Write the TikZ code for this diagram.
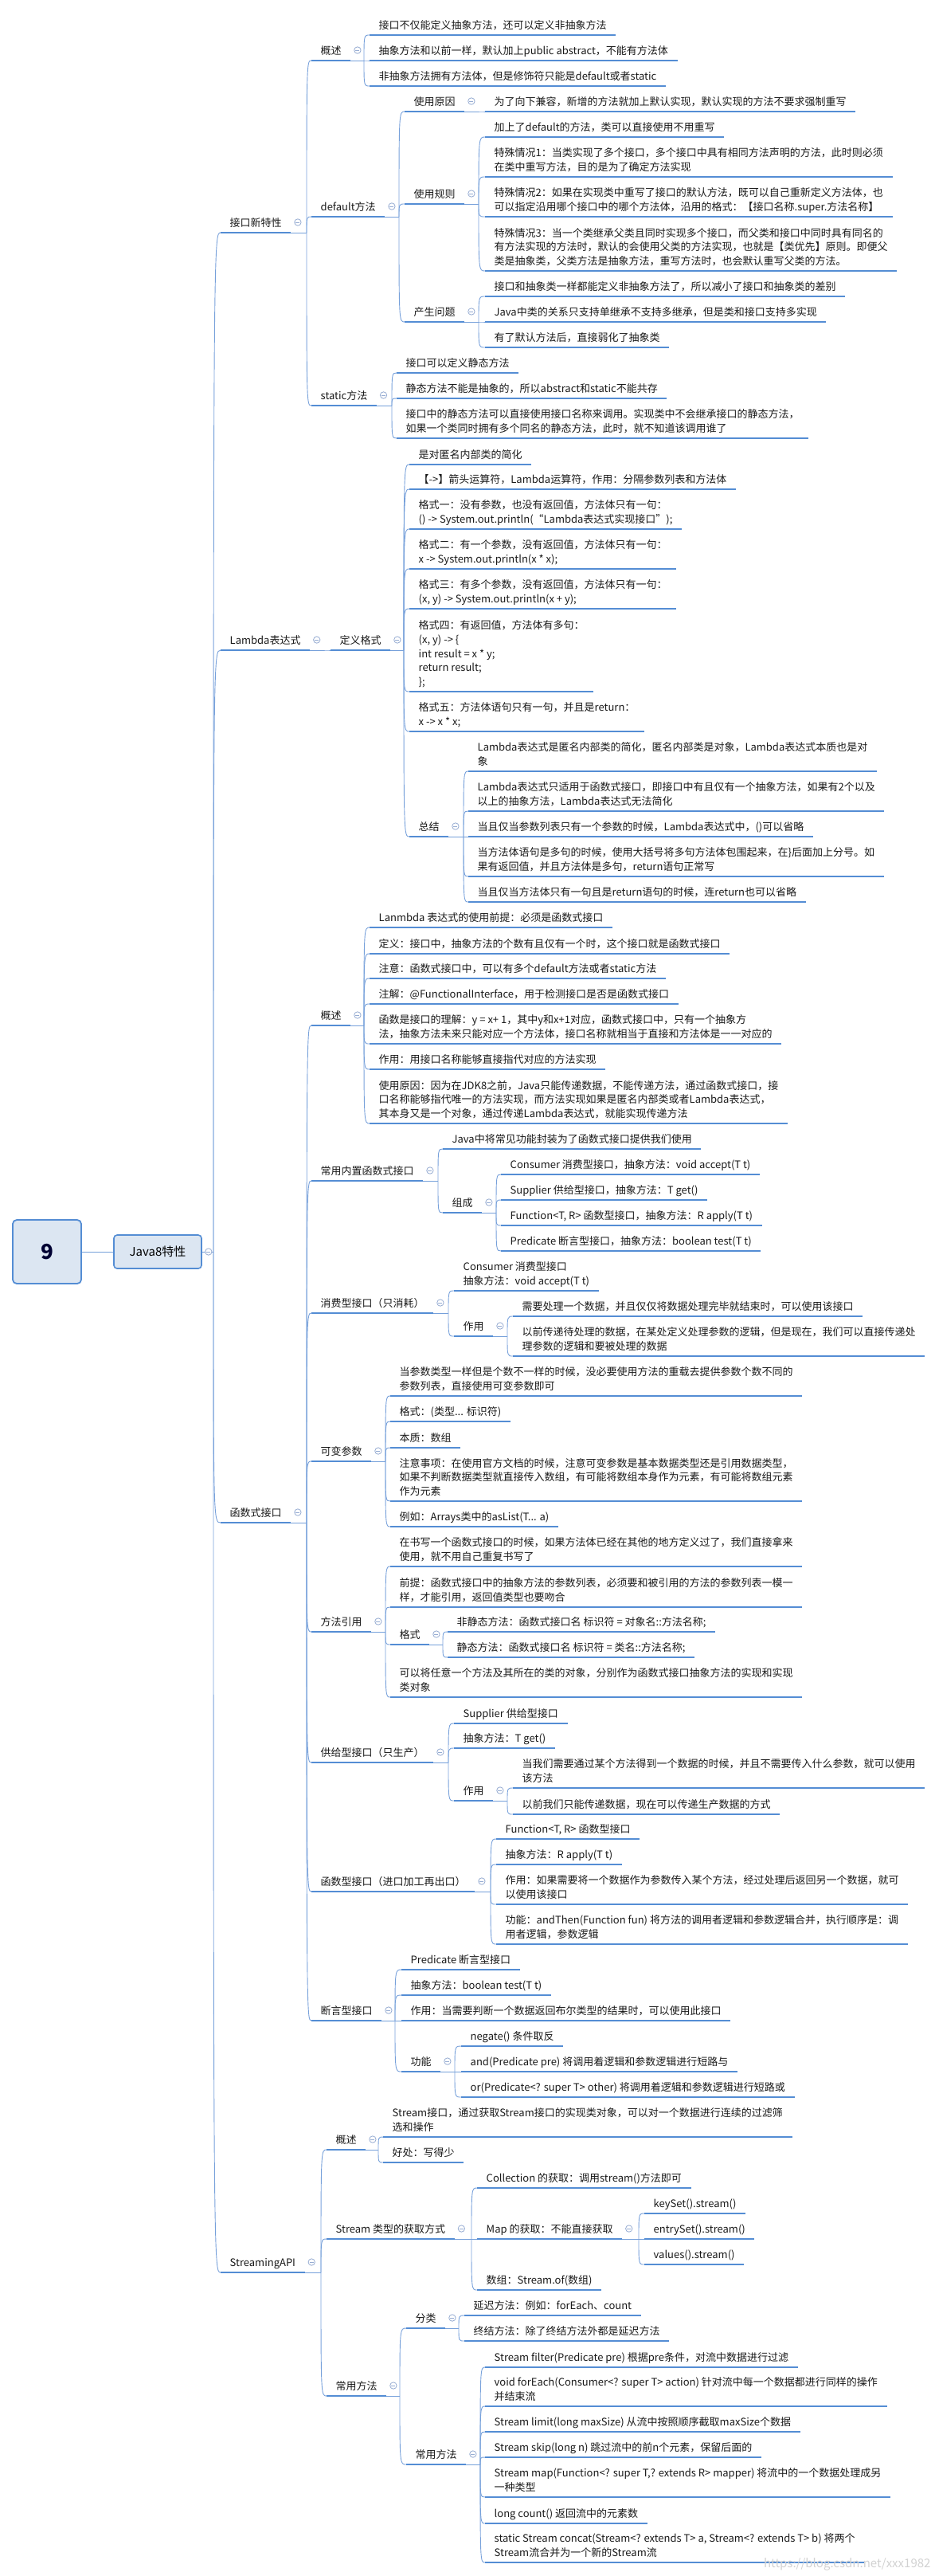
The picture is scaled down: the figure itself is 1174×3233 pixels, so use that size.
\documentclass[tikz,border=0pt]{standalone}
\usepackage{fontspec}
\setmainfont{Noto Sans CJK SC}
\usetikzlibrary{calc}
\definecolor{mmline}{RGB}{84,141,212}
\definecolor{mmlink}{RGB}{118,160,218}
\definecolor{mmfold}{RGB}{150,172,210}
\definecolor{mmbox}{RGB}{220,230,242}
\definecolor{mmtext}{RGB}{25,25,25}
\tikzset{
  uline/.style={draw=mmline, line width=2.6pt},
  topic/.style={anchor=south west, inner xsep=11.5pt, inner ysep=2pt, align=left,
    text=mmtext, font=\fontsize{13pt}{17.7pt}\selectfont, execute at end node=\strut,
    append after command={(\tikzlastnode.south west) edge[uline] (\tikzlastnode.south east)}},
  link/.style={draw=mmlink, line width=0.9pt},
  fold/.style={draw=mmfold, fill=white, line width=0.8pt},
  mainbox/.style={draw=mmline, fill=mmbox, line width=1.6pt, rounded corners=4pt,
    minimum width=110pt, minimum height=42pt, font=\fontsize{15pt}{18pt}\selectfont},
  rootbox/.style={draw=mmline, fill=mmbox, line width=1.8pt, rounded corners=5pt,
    minimum width=86pt, minimum height=80pt, font=\fontsize{26pt}{30pt}\selectfont\bfseries,
    text=black!80!blue},
}
% parent, x of the joint, children
\newcommand\branch[3]{%
  \coordinate (#1-j) at (#2,0 |- #1.south east);
  \draw[link] (#1.south east) -- (#1-j);
  \foreach \c in {#3}
    \draw[link] (#1-j) .. controls (#1-j |- \c.south west) .. (\c.south west);
  \draw[fold] ([xshift=8.5pt,yshift=13pt]#1.south east) circle[radius=4.2pt];
  \draw[fold] ([xshift=6pt,yshift=13pt]#1.south east) -- ++(5,0);
}
\begin{document}
\begin{tikzpicture}[x=1pt,y=-1pt]
\useasboundingbox (0,0) rectangle (1174,3233);

\node[rootbox] (root) at (59,1571) {9};
\node[mainbox] (java) at (198,1571) {Java8特性};

% level 1
\node[topic] (jkxtx) at (277,292) {接口新特性};
\node[topic] (lambda) at (277,816) {Lambda表达式};
\node[topic] (hsjk) at (277,1911) {函数式接口};
\node[topic] (stream) at (277,2852) {StreamingAPI};

% 接口新特性
\node[topic] (jkgs) at (391,76) {概述};
\node[topic] (jkdef) at (391,272) {default方法};
\node[topic] (jkst) at (391,509) {static方法};

\node[topic] (gs1) at (464,44) {接口不仅能定义抽象方法，还可以定义非抽象方法};
\node[topic] (gs2) at (464,76) {抽象方法和以前一样，默认加上public abstract，不能有方法体};
\node[topic] (gs3) at (464,108) {非抽象方法拥有方法体，但是修饰符只能是default或者static};

\node[topic] (yy) at (508,140) {使用原因};
\node[topic] (gz) at (508,256) {使用规则};
\node[topic] (wt) at (508,404) {产生问题};
\node[topic] (yy1) at (609,140) {为了向下兼容，新增的方法就加上默认实现，默认实现的方法不要求强制重写};
\node[topic] (gz1) at (609,172) {加上了default的方法，类可以直接使用不用重写};
\node[topic] (gz2) at (609,222) {特殊情况1：当类实现了多个接口，多个接口中具有相同方法声明的方法，此时则必须\\在类中重写方法，目的是为了确定方法实现};
\node[topic] (gz3) at (609,272) {特殊情况2：如果在实现类中重写了接口的默认方法，既可以自己重新定义方法体，也\\可以指定沿用哪个接口中的哪个方法体，沿用的格式：【接口名称.super.方法名称】};
\node[topic] (gz4) at (609,340) {特殊情况3：当一个类继承父类且同时实现多个接口，而父类和接口中同时具有同名的\\有方法实现的方法时，默认的会使用父类的方法实现，也就是【类优先】原则。即便父\\类是抽象类，父类方法是抽象方法，重写方法时，也会默认重写父类的方法。};
\node[topic] (wt1) at (609,372) {接口和抽象类一样都能定义非抽象方法了，所以减小了接口和抽象类的差别};
\node[topic] (wt2) at (609,404) {Java中类的关系只支持单继承不支持多继承，但是类和接口支持多实现};
\node[topic] (wt3) at (609,436) {有了默认方法后，直接弱化了抽象类};

\node[topic] (st1) at (498,468) {接口可以定义静态方法};
\node[topic] (st2) at (498,500) {静态方法不能是抽象的，所以abstract和static不能共存};
\node[topic] (st3) at (498,550) {接口中的静态方法可以直接使用接口名称来调用。实现类中不会继承接口的静态方法，\\如果一个类同时拥有多个同名的静态方法，此时，就不知道该调用谁了};

% Lambda表达式
\node[topic] (dygs) at (415,816) {定义格式};
\node[topic] (lf1) at (514,583) {是对匿名内部类的简化};
\node[topic] (lf2) at (514,614) {【->】箭头运算符，Lambda运算符，作用：分隔参数列表和方法体};
\node[topic] (lf3) at (514,664) {格式一：没有参数，也没有返回值，方法体只有一句：\\() -> System.out.println(“Lambda表达式实现接口”);};
\node[topic] (lf4) at (514,714) {格式二：有一个参数，没有返回值，方法体只有一句：\\x -> System.out.println(x * x);};
\node[topic] (lf5) at (514,764) {格式三：有多个参数，没有返回值，方法体只有一句：\\(x, y) -> System.out.println(x + y);};
\node[topic] (lf6) at (514,868) {格式四：有返回值，方法体有多句：\\(x, y) -> \{\\int result = x * y;\\return result;\\\};};
\node[topic] (lf7) at (514,918) {格式五：方法体语句只有一句，并且是return：\\x -> x * x;};
\node[topic] (zj) at (514,1050) {总结};
\node[topic] (zj1) at (588,968) {Lambda表达式是匿名内部类的简化，匿名内部类是对象，Lambda表达式本质也是对\\象};
\node[topic] (zj2) at (588,1018) {Lambda表达式只适用于函数式接口，即接口中有且仅有一个抽象方法，如果有2个以及\\以上的抽象方法，Lambda表达式无法简化};
\node[topic] (zj3) at (588,1050) {当且仅当参数列表只有一个参数的时候，Lambda表达式中，()可以省略};
\node[topic] (zj4) at (588,1100) {当方法体语句是多句的时候，使用大括号将多句方法体包围起来，在\}后面加上分号。如\\果有返回值，并且方法体是多句，return语句正常写};
\node[topic] (zj5) at (588,1132) {当且仅当方法体只有一句且是return语句的时候，连return也可以省略};

% 函数式接口
\node[topic] (hsgs) at (391,1287) {概述};
\node[topic] (nz) at (391,1482) {常用内置函数式接口};
\node[topic] (xf) at (391,1648) {消费型接口（只消耗）};
\node[topic] (kb) at (391,1834) {可变参数};
\node[topic] (ff) at (391,2048) {方法引用};
\node[topic] (gj) at (391,2212) {供给型接口（只生产）};
\node[topic] (hx) at (391,2374) {函数型接口（进口加工再出口）};
\node[topic] (dy) at (391,2536) {断言型接口};

\node[topic] (hg1) at (464,1164) {Lanmbda 表达式的使用前提：必须是函数式接口};
\node[topic] (hg2) at (464,1197) {定义：接口中，抽象方法的个数有且仅有一个时，这个接口就是函数式接口};
\node[topic] (hg3) at (464,1228) {注意：函数式接口中，可以有多个default方法或者static方法};
\node[topic] (hg4) at (464,1260) {注解：@FunctionalInterface，用于检测接口是否是函数式接口};
\node[topic] (hg5) at (464,1310) {函数是接口的理解：y = x+ 1，其中y和x+1对应，函数式接口中，只有一个抽象方\\法，抽象方法未来只能对应一个方法体，接口名称就相当于直接和方法体是一一对应的};
\node[topic] (hg6) at (464,1342) {作用：用接口名称能够直接指代对应的方法实现};
\node[topic] (hg7) at (464,1410) {使用原因：因为在JDK8之前，Java只能传递数据，不能传递方法，通过函数式接口，接\\口名称能够指代唯一的方法实现，而方法实现如果是匿名内部类或者Lambda表达式，\\其本身又是一个对象，通过传递Lambda表达式，就能实现传递方法};

\node[topic] (nz1) at (556,1442) {Java中将常见功能封装为了函数式接口提供我们使用};
\node[topic] (zc) at (556,1522) {组成};
\node[topic] (zc1) at (629,1474) {Consumer 消费型接口，抽象方法：void accept(T t)};
\node[topic] (zc2) at (629,1506) {Supplier 供给型接口，抽象方法：T get()};
\node[topic] (zc3) at (629,1538) {Function<T, R> 函数型接口，抽象方法：R apply(T t)};
\node[topic] (zc4) at (629,1570) {Predicate 断言型接口，抽象方法：boolean test(T t)};

\node[topic] (xf1) at (570,1620) {Consumer 消费型接口\\抽象方法：void accept(T t)};
\node[topic] (xfzy) at (570,1677) {作用};
\node[topic] (xfzy1) at (644,1652) {需要处理一个数据，并且仅仅将数据处理完毕就结束时，可以使用该接口};
\node[topic] (xfzy2) at (644,1702) {以前传递待处理的数据，在某处定义处理参数的逻辑，但是现在，我们可以直接传递处\\理参数的逻辑和要被处理的数据};

\node[topic] (kb1) at (490,1752) {当参数类型一样但是个数不一样的时候，没必要使用方法的重载去提供参数个数不同的\\参数列表，直接使用可变参数即可};
\node[topic] (kb2) at (490,1784) {格式：(类型... 标识符)};
\node[topic] (kb3) at (490,1817) {本质：数组};
\node[topic] (kb4) at (490,1884) {注意事项：在使用官方文档的时候，注意可变参数是基本数据类型还是引用数据类型，\\如果不判断数据类型就直接传入数组，有可能将数组本身作为元素，有可能将数组元素\\作为元素};
\node[topic] (kb5) at (490,1916) {例如：Arrays类中的asList(T... a)};

\node[topic] (ff1) at (490,1966) {在书写一个函数式接口的时候，如果方法体已经在其他的地方定义过了，我们直接拿来\\使用，就不用自己重复书写了};
\node[topic] (ff2) at (490,2017) {前提：函数式接口中的抽象方法的参数列表，必须要和被引用的方法的参数列表一模一\\样，才能引用，返回值类型也要吻合};
\node[topic] (ffgs) at (490,2064) {格式};
\node[topic] (ff4) at (490,2130) {可以将任意一个方法及其所在的类的对象，分别作为函数式接口抽象方法的实现和实现\\类对象};
\node[topic] (ffgs1) at (562,2048) {非静态方法：函数式接口名 标识符 = 对象名::方法名称;};
\node[topic] (ffgs2) at (562,2080) {静态方法：函数式接口名 标识符 = 类名::方法名称;};

\node[topic] (gj1) at (570,2163) {Supplier 供给型接口};
\node[topic] (gj2) at (570,2194) {抽象方法：T get()};
\node[topic] (gjzy) at (570,2260) {作用};
\node[topic] (gjzy1) at (644,2244) {当我们需要通过某个方法得到一个数据的时候，并且不需要传入什么参数，就可以使用\\该方法};
\node[topic] (gjzy2) at (644,2277) {以前我们只能传递数据，现在可以传递生产数据的方式};

\node[topic] (hx1) at (623,2308) {Function<T, R> 函数型接口};
\node[topic] (hx2) at (623,2340) {抽象方法：R apply(T t)};
\node[topic] (hx3) at (623,2390) {作用：如果需要将一个数据作为参数传入某个方法，经过处理后返回另一个数据，就可\\以使用该接口};
\node[topic] (hx4) at (623,2440) {功能：andThen(Function fun) 将方法的调用者逻辑和参数逻辑合并，执行顺序是：调\\用者逻辑，参数逻辑};

\node[topic] (dy1) at (504,2472) {Predicate 断言型接口};
\node[topic] (dy2) at (504,2504) {抽象方法：boolean test(T t)};
\node[topic] (dy3) at (504,2536) {作用：当需要判断一个数据返回布尔类型的结果时，可以使用此接口};
\node[topic] (dygn) at (504,2600) {功能};
\node[topic] (dygn1) at (579,2568) {negate() 条件取反};
\node[topic] (dygn2) at (579,2600) {and(Predicate pre) 将调用着逻辑和参数逻辑进行短路与};
\node[topic] (dygn3) at (579,2632) {or(Predicate<? super T> other) 将调用着逻辑和参数逻辑进行短路或};

% StreamingAPI
\node[topic] (sgs) at (410,2698) {概述};
\node[topic] (hq) at (410,2810) {Stream 类型的获取方式};
\node[topic] (cy) at (410,3007) {常用方法};
\node[topic] (sgs1) at (481,2682) {Stream接口，通过获取Stream接口的实现类对象，可以对一个数据进行连续的过滤筛\\选和操作};
\node[topic] (sgs2) at (481,2714) {好处：写得少};
\node[topic] (hq1) at (599,2746) {Collection 的获取：调用stream()方法即可};
\node[topic] (hqmap) at (599,2810) {Map 的获取：不能直接获取};
\node[topic] (hq3) at (599,2874) {数组：Stream.of(数组)};
\node[topic] (hqmap1) at (809,2778) {keySet().stream()};
\node[topic] (hqmap2) at (809,2810) {entrySet().stream()};
\node[topic] (hqmap3) at (809,2842) {values().stream()};
\node[topic] (fl) at (510,2922) {分类};
\node[topic] (cyff) at (510,3093) {常用方法};
\node[topic] (fl1) at (583,2906) {延迟方法：例如：forEach、count};
\node[topic] (fl2) at (583,2938) {终结方法：除了终结方法外都是延迟方法};
\node[topic] (cyff1) at (609,2971) {Stream filter(Predicate pre) 根据pre条件，对流中数据进行过滤};
\node[topic] (cyff2) at (609,3020) {void forEach(Consumer<? super T> action) 针对流中每一个数据都进行同样的操作\\并结束流};
\node[topic] (cyff3) at (609,3052) {Stream limit(long maxSize) 从流中按照顺序截取maxSize个数据};
\node[topic] (cyff4) at (609,3084) {Stream skip(long n) 跳过流中的前n个元素，保留后面的};
\node[topic] (cyff5) at (609,3134) {Stream map(Function<? super T,? extends R> mapper) 将流中的一个数据处理成另\\一种类型};
\node[topic] (cyff6) at (609,3167) {long count() 返回流中的元素数};
\node[topic] (cyff7) at (609,3216) {static Stream concat(Stream<? extends T> a, Stream<? extends T> b) 将两个\\Stream流合并为一个新的Stream流};

% connectors
\draw[link] (root.east) -- (java.west);
\coordinate (java-j) at (268,0 |- java.east);
\draw[link] (java.east) -- (java-j);
\foreach \c in {jkxtx,lambda,hsjk,stream}
  \draw[link] (java-j) .. controls (java-j |- \c.south west) .. (\c.south west);
\draw[fold] ([xshift=8pt]java.east) circle[radius=4.2pt];
\draw[fold] ([xshift=5.5pt]java.east) -- ++(5,0);

\branch{jkxtx}{385}{jkgs,jkdef,jkst}
\branch{jkgs}{457}{gs1,gs2,gs3}
\branch{jkdef}{501}{yy,gz,wt}
\branch{yy}{601}{yy1}
\branch{gz}{601}{gz1,gz2,gz3,gz4}
\branch{wt}{601}{wt1,wt2,wt3}
\branch{jkst}{492}{st1,st2,st3}
\branch{lambda}{407}{dygs}
\branch{dygs}{507}{lf1,lf2,lf3,lf4,lf5,lf6,lf7,zj}
\branch{zj}{582}{zj1,zj2,zj3,zj4,zj5}
\branch{hsjk}{385}{hsgs,nz,xf,kb,ff,gj,hx,dy}
\branch{hsgs}{457}{hg1,hg2,hg3,hg4,hg5,hg6,hg7}
\branch{nz}{550}{nz1,zc}
\branch{zc}{623}{zc1,zc2,zc3,zc4}
\branch{xf}{563}{xf1,xfzy}
\branch{xfzy}{637}{xfzy1,xfzy2}
\branch{kb}{484}{kb1,kb2,kb3,kb4,kb5}
\branch{ff}{484}{ff1,ff2,ffgs,ff4}
\branch{ffgs}{556}{ffgs1,ffgs2}
\branch{gj}{563}{gj1,gj2,gjzy}
\branch{gjzy}{637}{gjzy1,gjzy2}
\branch{hx}{616}{hx1,hx2,hx3,hx4}
\branch{dy}{496}{dy1,dy2,dy3,dygn}
\branch{dygn}{571}{dygn1,dygn2,dygn3}
\branch{stream}{403}{sgs,hq,cy}
\branch{sgs}{475}{sgs1,sgs2}
\branch{hq}{592}{hq1,hqmap,hq3}
\branch{hqmap}{802}{hqmap1,hqmap2,hqmap3}
\branch{cy}{502}{fl,cyff}
\branch{fl}{576}{fl1,fl2}
\branch{cyff}{603}{cyff1,cyff2,cyff3,cyff4,cyff5,cyff6,cyff7}

\node[anchor=base east, text=black!18, font=\fontsize{15pt}{18pt}\selectfont] (mark) at (1172,3222) {https://blog.csdn.net/xxx1982};
\end{tikzpicture}
\end{document}
